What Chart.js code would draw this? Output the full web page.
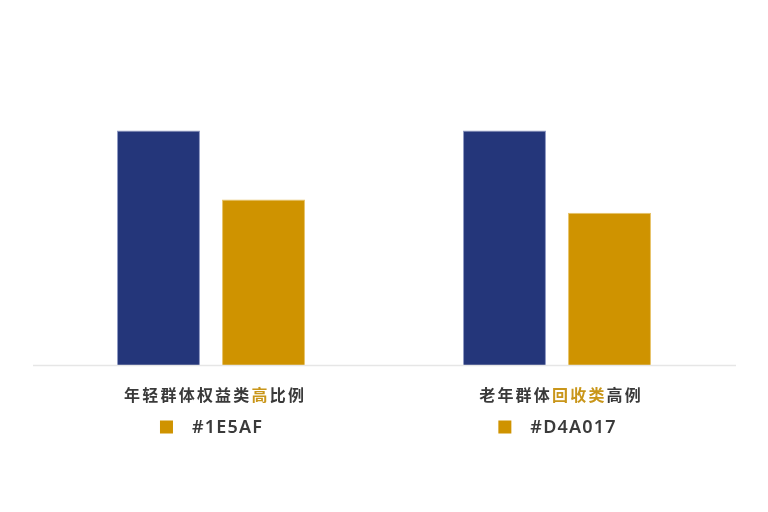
<!DOCTYPE html>
<html>
<head>
<meta charset="utf-8">
<script src="https://cdn.jsdelivr.net/npm/chart.js@4"></script>
<style>
html,body{margin:0;padding:0;background:#fff;}
#wrap{width:768px;height:512px;position:relative;}
</style>
</head>
<body>
<div id="wrap"><canvas id="c" width="768" height="512"></canvas></div>
<script>
const categories = ["年轻群体权益类高比例", "老年群体回收类高例"];
const highlightChars = [[7], [4, 5, 6]];
const seriesA = [80, 80];
const seriesB = [56.5, 52];
const legendTexts = ["#1E5AF", "#D4A017"];

const BLUE = "#24367A";
const GOLD = "#CF9300";
const TEXT = "#3a3a3a";
const HL = "#C9961A";

function drawSpaced(ctx, str, cx, cy, spacing, colorFn) {
  const widths = [...str].map(ch => ctx.measureText(ch).width);
  const total = widths.reduce((a, b) => a + b, 0) + spacing * (widths.length - 1);
  let x = cx - total / 2;
  [...str].forEach((ch, i) => {
    ctx.fillStyle = colorFn(i);
    ctx.fillText(ch, x, cy);
    x += widths[i] + spacing;
  });
  return total;
}

const textPlugin = {
  id: 'textPlugin',
  afterDraw(chart) {
    const ctx = chart.ctx;
    const xs = chart.scales.x;
    const ca = chart.chartArea;
    ctx.save();
    // baseline
    ctx.strokeStyle = "#e6e6e6";
    ctx.lineWidth = 1.5;
    ctx.beginPath();
    ctx.moveTo(ca.left - 5, ca.bottom + 0.5);
    ctx.lineTo(ca.right + 6, ca.bottom + 0.5);
    ctx.stroke();

    ctx.textBaseline = "middle";
    ctx.textAlign = "left";
    categories.forEach((lab, i) => {
      const cx = xs.getPixelForValue(i);
      ctx.font = "600 16px 'Noto Sans CJK SC', 'Noto Sans', sans-serif";
      drawSpaced(ctx, lab, cx + 3, ca.bottom + 30, 2.2, k => highlightChars[i].includes(k) ? HL : TEXT);
      // legend-like row
      ctx.font = "600 18px 'Noto Sans', 'DejaVu Sans', sans-serif";
      const t = legendTexts[i];
      const sp = 1.2;
      const tw = [...t].reduce((a, ch) => a + ctx.measureText(ch).width, 0) + sp * (t.length - 1);
      const box = 13, gap = 19;
      const total = box + gap + tw;
      const left = cx - total / 2;
      const y = ca.bottom + 62;
      ctx.fillStyle = GOLD;
      ctx.fillRect(left, y - box / 2, box, box);
      drawSpaced(ctx, t, left + box + gap + tw / 2, y + 1, sp, () => TEXT);
    });
    ctx.restore();
  }
};

new Chart(document.getElementById('c'), {
  type: 'bar',
  data: {
    labels: categories,
    datasets: [
      { label: 'A', data: seriesA, backgroundColor: BLUE, borderColor: "#8f9ac4", borderWidth: 1,
        categoryPercentage: 0.607, barPercentage: 0.79 },
      { label: 'B', data: seriesB, backgroundColor: GOLD, borderColor: "#e8c46a", borderWidth: 1,
        categoryPercentage: 0.607, barPercentage: 0.79 }
    ]
  },
  options: {
    responsive: false,
    animation: false,
    devicePixelRatio: 1,
    layout: { padding: { left: 38, right: 38, top: 72, bottom: 147 } },
    plugins: { legend: { display: false }, tooltip: { enabled: false } },
    scales: {
      x: { display: false },
      y: { display: false, min: 0, max: 100 }
    }
  },
  plugins: [textPlugin]
});
</script>
</body>
</html>
